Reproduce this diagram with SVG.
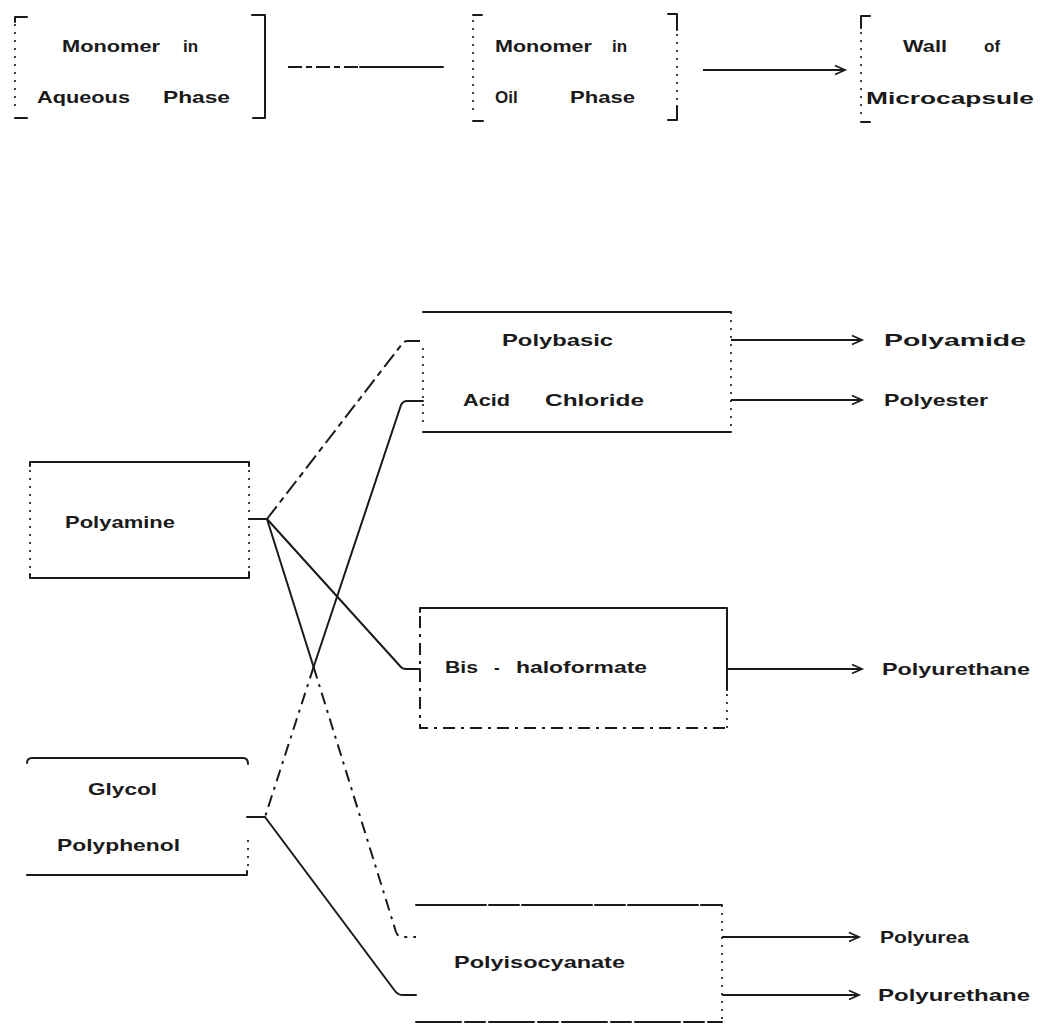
<svg xmlns="http://www.w3.org/2000/svg" width="1041" height="1025" viewBox="0 0 1041 1025">
<defs>
<marker id="arr" markerWidth="14" markerHeight="12" refX="11" refY="6" orient="auto" markerUnits="userSpaceOnUse">
<path d="M1,1.5 L11,6 L1,10.5" fill="none" stroke="#1a1a1a" stroke-width="1.8"/>
</marker>
<style>
text{font-family:"Liberation Sans",Arial,sans-serif;font-size:17px;font-weight:bold;fill:#1a1a1a}
.s{fill:none;stroke:#1a1a1a;stroke-width:2;stroke-linecap:round;stroke-linejoin:round}
.d{fill:none;stroke:#2a2a2a;stroke-width:1.8;stroke-dasharray:2 6}
.dd{fill:none;stroke:#1a1a1a;stroke-width:2;stroke-dasharray:16 5 6 5}
.dl{fill:none;stroke:#1a1a1a;stroke-width:2;stroke-dasharray:12 6 3 6}
.a{fill:none;stroke:#1a1a1a;stroke-width:2;marker-end:url(#arr)}
</style>
</defs>
<rect width="1041" height="1025" fill="#ffffff"/>

<g id="aqueous">
<path class="s" d="M27,17 H15 V22"/>
<path class="d" d="M15,24 V112"/>
<path class="s" d="M15,118 H27"/>
<path class="s" d="M252,15 H265 V118 H253"/>
<text><tspan x="62" y="52" textLength="98" lengthAdjust="spacingAndGlyphs">Monomer</tspan><tspan x="183" y="52">in</tspan></text>
<text><tspan x="37" y="103" textLength="93" lengthAdjust="spacingAndGlyphs">Aqueous</tspan><tspan x="163" y="103" textLength="67" lengthAdjust="spacingAndGlyphs">Phase</tspan></text>
</g>

<g id="oil">
<path class="s" d="M473,15 H482"/>
<path class="d" d="M473,20 V116"/>
<path class="s" d="M473,121 H483"/>
<path class="s" d="M668,14 H677 V30"/>
<path class="d" d="M677,34 V104"/>
<path class="s" d="M677,106 V120 H668"/>
<text><tspan x="495" y="52" textLength="97" lengthAdjust="spacingAndGlyphs">Monomer</tspan><tspan x="612" y="52">in</tspan></text>
<text><tspan x="495" y="103">Oil</tspan><tspan x="570" y="103" textLength="65" lengthAdjust="spacingAndGlyphs">Phase</tspan></text>
</g>

<g id="wall">
<path class="s" d="M870,16 H861 V28"/>
<path class="d" d="M861,32 V116"/>
<path class="s" d="M861,122 H870"/>
<text><tspan x="903" y="52" textLength="44" lengthAdjust="spacingAndGlyphs">Wall</tspan><tspan x="984" y="52">of</tspan></text>
<text x="866" y="104" textLength="168" lengthAdjust="spacingAndGlyphs">Microcapsule</text>
</g>

<g id="polybasic">
<path class="s" d="M423,312 H731"/>
<path class="d" d="M423,348 V428"/>
<path class="d" d="M731,312 V432"/>
<path class="s" d="M423,432 H731"/>
<text x="502" y="346" textLength="111" lengthAdjust="spacingAndGlyphs">Polybasic</text>
<text><tspan x="463" y="406" textLength="47" lengthAdjust="spacingAndGlyphs">Acid</tspan><tspan x="545" y="406" textLength="99" lengthAdjust="spacingAndGlyphs">Chloride</tspan></text>
</g>

<g id="polyamine">
<path class="s" d="M30,466 V462 H249 V466"/>
<path class="d" d="M30,470 V574"/>
<path class="d" d="M249,470 V574"/>
<path class="s" d="M30,574 V578 H249 V572"/>
<text x="65" y="528" textLength="110" lengthAdjust="spacingAndGlyphs">Polyamine</text>
</g>

<g id="bishaloformate">
<path class="s" d="M420,612 V608 H727 V690"/>
<path class="d" d="M727,694 V728"/>
<path class="dl" d="M420,616 V728 H727"/>
<text><tspan x="445" y="673" textLength="33" lengthAdjust="spacingAndGlyphs">Bis</tspan><tspan x="494" y="673">-</tspan><tspan x="516" y="673" textLength="131" lengthAdjust="spacingAndGlyphs">haloformate</tspan></text>
</g>

<g id="glycol">
<path class="s" d="M27,763 Q27,758 32,758 H243 Q248,758 248,764"/>
<path class="d" d="M248,840 V870"/>
<path class="s" d="M27,875 H247 V871"/>
<text x="88" y="795" textLength="69" lengthAdjust="spacingAndGlyphs">Glycol</text>
<text x="57" y="851" textLength="123" lengthAdjust="spacingAndGlyphs">Polyphenol</text>
</g>

<g id="polyisocyanate">
<path class="s" d="M416,905 H722" style="stroke-dasharray:70 3 30 3"/>
<path class="d" d="M722,905 V1022"/>
<path class="s" d="M416,1022 H722" style="stroke-dasharray:45 4 20 4"/>
<text x="454" y="968" textLength="171" lengthAdjust="spacingAndGlyphs">Polyisocyanate</text>
</g>

<g id="products">
<text x="884" y="346" textLength="142" lengthAdjust="spacingAndGlyphs">Polyamide</text>
<text x="884" y="406" textLength="104" lengthAdjust="spacingAndGlyphs">Polyester</text>
<text x="882" y="675" textLength="148" lengthAdjust="spacingAndGlyphs">Polyurethane</text>
<text x="880" y="943" textLength="89" lengthAdjust="spacingAndGlyphs">Polyurea</text>
<text x="878" y="1001" textLength="152" lengthAdjust="spacingAndGlyphs">Polyurethane</text>
</g>

<g id="connectors">
<path class="dl" d="M288,67 H360" style="stroke-dasharray:14 4 6 4"/>
<path class="s" d="M360,67 H443"/>
<path class="a" d="M703,70 H845"/>
<path class="a" d="M731,340 H862"/>
<path class="a" d="M731,400 H862"/>
<path class="a" d="M727,669 H862"/>
<path class="a" d="M722,937 H859"/>
<path class="a" d="M722,995 H859"/>
<path class="s" d="M249,519 H267"/>
<path class="s" d="M247,817 H265"/>
<path class="dd" d="M267,519 L402,344 Q404,341 408,341 L423,341"/>
<path class="s" d="M267,519 L400,666 Q402,669 406,669 L420,669"/>
<path class="s" d="M267,519 L313.6,667"/>
<path class="dl" d="M313.6,667 L396,932 Q398,937 402,937 L416,937"/>
<path class="s" d="M313.6,667 L401,405 Q403,401 407,401 L423,401"/>
<path class="dl" d="M313.6,667 L265,817"/>
<path class="s" d="M265,817 L395,991 Q398,995 403,995 L416,995"/>
</g>
</svg>
